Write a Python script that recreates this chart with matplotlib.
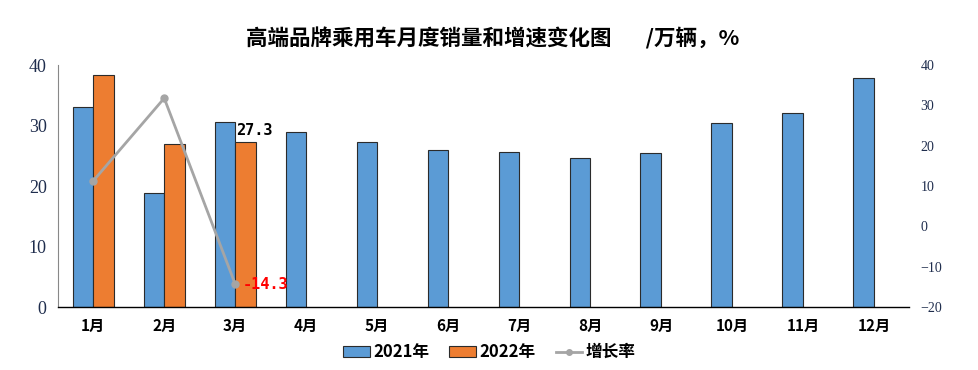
import matplotlib
matplotlib.use("Agg")
import matplotlib.pyplot as plt
import numpy as np
from matplotlib.patches import Patch
from matplotlib.lines import Line2D

months = ["1月", "2月", "3月", "4月", "5月", "6月", "7月", "8月", "9月", "10月", "11月", "12月"]
sales_2021 = [33.0, 18.8, 30.6, 28.9, 27.3, 26.0, 25.6, 24.6, 25.5, 30.4, 32.1, 37.9]
sales_2022 = [38.3, 26.9, 27.3]
growth = [11.3, 31.8, -14.3]

C_BLUE = "#5B9BD5"
C_ORANGE = "#ED7D31"
C_GRAY = "#A5A5A5"
C_TICK = "#1F2D4D"
CJK = ["Noto Sans CJK SC", "DejaVu Sans"]

plt.rcParams["font.family"] = CJK

fig = plt.figure(figsize=(9.79, 3.70), dpi=100)
ax = fig.add_axes([0.059, 0.170, 0.870, 0.654])

x = np.arange(len(months))
w = 0.29
ax.bar(x - w / 2, sales_2021, width=w, color=C_BLUE, edgecolor="#2b2b2b", linewidth=0.8, zorder=2)
x22 = x[:len(sales_2022)]
ax.bar(x22 + w / 2, sales_2022, width=w, color=C_ORANGE, edgecolor="#2b2b2b", linewidth=0.8, zorder=2)

ax.set_xlim(-0.5, len(months) - 0.5)
ax.set_ylim(0, 40)
ax.set_yticks(range(0, 41, 10))
ax.set_xticks(x)
ax.set_xticklabels(months, fontsize=11, fontweight="bold")
for lab in ax.get_yticklabels():
    lab.set_family("Liberation Serif")
    lab.set_fontsize(13)
    lab.set_color(C_TICK)
ax.tick_params(axis="both", length=0)
ax.tick_params(axis="x", pad=8)
ax.tick_params(axis="y", pad=8)
for s in ["top", "right"]:
    ax.spines[s].set_visible(False)
ax.spines["left"].set_color("#888888")
ax.spines["bottom"].set_color("#000000")
ax.spines["bottom"].set_linewidth(1.0)

ax2 = ax.twinx()
ax2.plot(x22, growth, color=C_GRAY, lw=2, marker="o", markersize=5, zorder=3)
ax2.set_ylim(-20, 40)
ax2.set_yticks(range(-20, 41, 10))
for lab in ax2.get_yticklabels():
    lab.set_family("Liberation Serif")
    lab.set_fontsize(10)
    lab.set_color(C_TICK)
ax2.tick_params(axis="y", length=0, pad=8)
for s in ["top", "right", "left", "bottom"]:
    ax2.spines[s].set_visible(False)

# data labels
ax.text(x22[2] + 0.02, sales_2022[2] + 0.6, f"{sales_2022[2]}", ha="left", va="bottom",
        fontsize=11, fontweight="bold", family="DejaVu Sans Mono", color="black")
ax2.text(x22[2] + 0.1, growth[2], f"{growth[2]}", ha="left", va="center",
         fontsize=11, fontweight="bold", family="DejaVu Sans Mono", color="red")

fig.text(0.503, 0.897, "高端品牌乘用车月度销量和增速变化图       /万辆，%", ha="center", va="center",
         fontsize=15.5, fontweight="bold")

handles = [
    Patch(facecolor=C_BLUE, edgecolor="#2b2b2b", linewidth=0.8, label="2021年"),
    Patch(facecolor=C_ORANGE, edgecolor="#2b2b2b", linewidth=0.8, label="2022年"),
    Line2D([0], [0], color=C_GRAY, lw=2, marker="o", markersize=4, label="增长率"),
]
fig.legend(handles=handles, loc="center", bbox_to_anchor=(0.5, 0.048), ncol=3, frameon=False,
           prop={"family": CJK, "size": 12, "weight": "bold"}, handlelength=1.6, handleheight=0.6,
           handletextpad=0.2, columnspacing=1.2)

fig.savefig("out.png", dpi=100)
